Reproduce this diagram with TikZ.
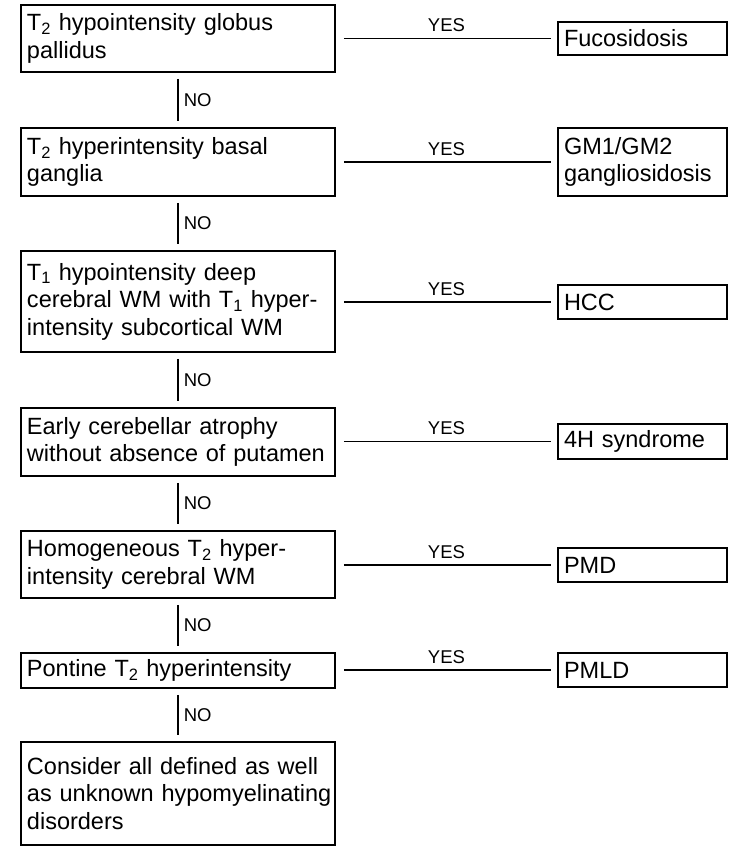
\documentclass[tikz,border=0pt]{standalone}
\usepackage{fontspec}
\setmainfont{Liberation Sans}
\tikzset{
  x=1pt, y=1pt,
  qbox/.style={draw, line width=1.6pt, rectangle, inner xsep=6pt, inner ysep=0pt,
    text width=302pt, align=left, minimum width=314pt,
    font=\fontsize{23.5}{27.5}\selectfont},
  abox/.style={draw, line width=1.6pt, rectangle, inner xsep=6pt, inner ysep=0pt,
    text width=157pt, align=left, minimum width=169pt,
    font=\fontsize{23.5}{27.5}\selectfont},
  link/.style={line width=1.6pt},
  lbl/.style={font=\fontsize{18.5}{20}\selectfont, inner sep=5pt},
}
\newcommand{\sub}[1]{\textsubscript{#1}}
\begin{document}
\begin{tikzpicture}
\useasboundingbox (0,0) rectangle (747,853);
% question boxes
\node[qbox, minimum height=67pt] (B1) at (178,814.5) {T\sub{2} hypointensity globus\\pallidus};
\node[qbox, minimum height=68pt] (B2) at (178,691) {T\sub{2} hyperintensity basal\\ganglia};
\node[qbox, minimum height=101pt] (B3) at (178,551.5) {T\sub{1} hypointensity deep\\cerebral WM with T\sub{1} hyper-\\intensity subcortical WM};
\node[qbox, minimum height=68pt] (B4) at (178,411) {Early cerebellar atrophy\\without absence of putamen};
\node[qbox, minimum height=67pt] (B5) at (178,288.5) {Homogeneous T\sub{2} hyper-\\intensity cerebral WM};
\node[qbox, minimum height=35pt] (B6) at (178,182.5) {Pontine T\sub{2} hyperintensity};
\node[qbox, minimum height=103pt] (B7) at (178,59.5) {Consider all defined as well\\\mbox{as unknown hypomyelinating}\\disorders};
% answer boxes
\node[abox, minimum height=33pt] (R1) at (642.5,814.5) {Fucosidosis};
\node[abox, minimum height=68pt] (R2) at (642.5,691) {GM1/GM2\\gangliosidosis};
\node[abox, minimum height=34pt] (R3) at (642.5,551) {HCC};
\node[abox, minimum height=35pt] (R4) at (642.5,411.5) {4H syndrome};
\node[abox, minimum height=34pt] (R5) at (642.5,288) {PMD};
\node[abox, minimum height=34pt] (R6) at (642.5,183) {PMLD};
% YES connectors
\foreach \i in {1,...,6}{
  \draw[link, shorten <=8pt, shorten >=6pt] (R\i.west -| B\i.east) -- (R\i.west)
    node[lbl, midway, above, inner sep=6pt] {YES};
}
% NO connectors
\foreach \i/\j in {1/2,2/3,3/4,4/5,5/6,6/7}{
  \draw[link, shorten <=6pt, shorten >=6pt] (B\i.south) -- (B\j.north)
    node[lbl, midway, right] {NO};
}
\end{tikzpicture}
\end{document}
